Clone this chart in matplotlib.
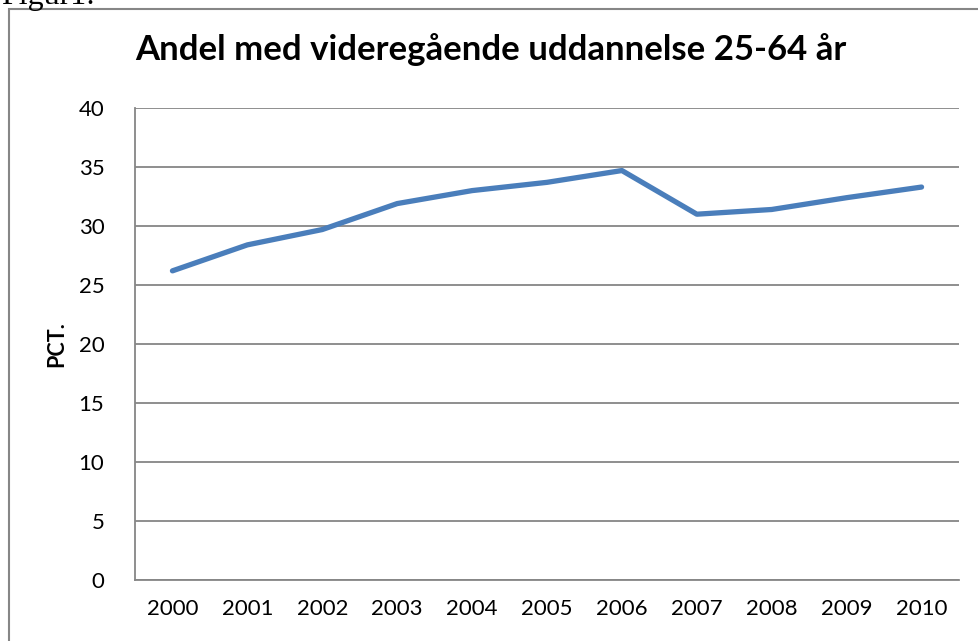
import matplotlib
matplotlib.use("Agg")
import matplotlib.pyplot as plt
from matplotlib.patches import Rectangle

years = ["2000", "2001", "2002", "2003", "2004", "2005", "2006", "2007", "2008", "2009", "2010"]
values = [26.2, 28.4, 29.7, 31.9, 33.0, 33.7, 34.7, 31.0, 31.4, 32.4, 33.3]
yticks = [0, 5, 10, 15, 20, 25, 30, 35, 40]

W, H = 979, 641
fig = plt.figure(figsize=(W / 100, H / 100), dpi=100)
fig.patch.set_facecolor("white")

# outer chart frame
fig.patches.append(Rectangle((9 / W, -0.1), 1.2, 1 - 9 / H + 0.1, transform=fig.transFigure,
                             fill=False, edgecolor="#868686", linewidth=1.5))
fig.text(1 / W, 1 - 4 / H, "Figur1:", family="Liberation Serif", fontsize=23,
         ha="left", va="baseline", color="black")

ax = fig.add_axes([135 / W, 1 - 580 / H, (959 - 135) / W, (580 - 108) / H])
x = list(range(len(years)))
ax.plot(x, values, color="#4A7EBB", linewidth=3.8, solid_capstyle="round", solid_joinstyle="round")
ax.set_xlim(-0.5, len(years) - 0.5)
ax.set_ylim(0, 40)
ax.set_yticks(yticks)
ax.set_xticks(x)
ax.set_xticklabels(years)
ax.grid(axis="y", color="#868686", linewidth=1.3)
ax.set_axisbelow(True)
for s in ["top", "right"]:
    ax.spines[s].set_visible(False)
for s in ["left", "bottom"]:
    ax.spines[s].set_color("#868686")
    ax.spines[s].set_linewidth(1.3)
ax.tick_params(length=0, labelsize=16, pad=14)
ax.tick_params(axis="y", pad=22)
for lab in ax.get_xticklabels() + ax.get_yticklabels():
    lab.set_family("Lato")
ax.set_ylabel("PCT.", family="Lato", fontweight="bold", fontsize=15.5, labelpad=8)
fig.text(491 / W, 1 - 50 / H, "Andel med videregående uddannelse 25-64 år", family="Lato",
         fontweight="bold", fontsize=25, ha="center", va="center")

fig.savefig("out.png", dpi=100)
